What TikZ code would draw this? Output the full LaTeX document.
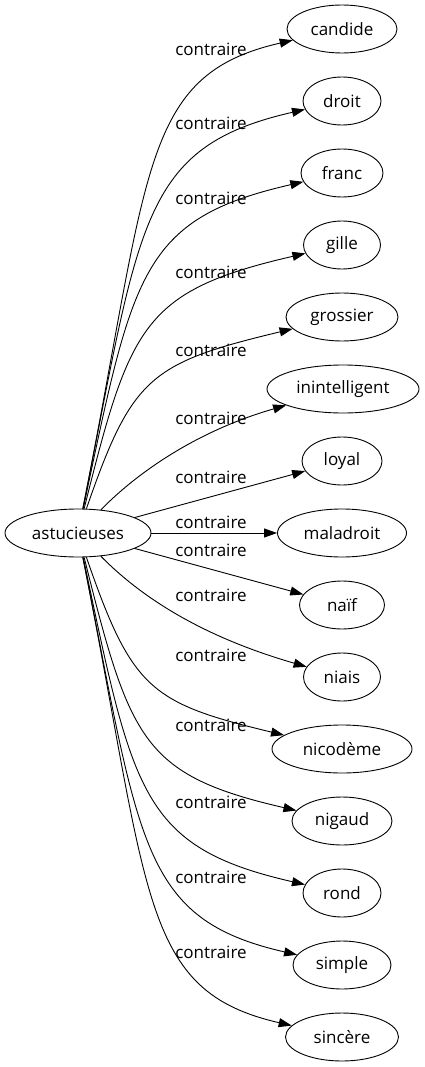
\documentclass[tikz,border=0pt]{standalone}
\usepackage{fontspec}
\setmainfont{Open Sans}
\usetikzlibrary{shapes.geometric,arrows.meta}
\begin{document}
\begin{tikzpicture}[x=1pt,y=-1pt,
  word/.style={ellipse,draw,line width=0.9pt,minimum height=48pt,inner sep=0pt,font=\fontsize{17}{20}\selectfont},
  lbl/.style={font=\fontsize{17}{20}\selectfont,inner sep=0pt},
  rel/.style={line width=0.9pt,-{Triangle[length=13pt,width=9pt]}}]
\useasboundingbox (0,0) rectangle (424,1067);
\node[word,minimum width=146pt] (src) at (78,533) {astucieuses};
\node[word,minimum width=110pt] (candide) at (342,29) {candide};
\node[word,minimum width=78pt] (droit) at (342,101) {droit};
\node[word,minimum width=82pt] (franc) at (342,173) {franc};
\node[word,minimum width=77pt] (gille) at (342,245) {gille};
\node[word,minimum width=112pt] (grossier) at (342,317) {grossier};
\node[word,minimum width=152pt] (inintelligent) at (343,389) {inintelligent};
\node[word,minimum width=80pt] (loyal) at (342,461) {loyal};
\node[word,minimum width=129pt] (maladroit) at (342,533) {maladroit};
\node[word,minimum width=85pt] (naif) at (342,605) {naïf};
\node[word,minimum width=77pt] (niais) at (342,677) {niais};
\node[word,minimum width=140pt] (nicodeme) at (342,749) {nicodème};
\node[word,minimum width=100pt] (nigaud) at (342,821) {nigaud};
\node[word,minimum width=78pt] (rond) at (342,893) {rond};
\node[word,minimum width=98pt] (simple) at (342,965) {simple};
\node[word,minimum width=113pt] (sincere) at (342,1037) {sincère};

\draw[rel] (src) .. controls (150,170) and (140,75) .. (candide);
\draw[rel] (src) .. controls (140,222) and (140,147) .. (droit);
\draw[rel] (src) .. controls (133,274) and (140,219) .. (franc);
\draw[rel] (src) .. controls (130,326) and (142,291) .. (gille);
\draw[rel] (src) .. controls (132,377) and (150,363) .. (grossier);
\draw[rel] (src) .. controls (140,470) and (200,430) .. (inintelligent);
\draw[rel] (src) -- (loyal);
\draw[rel] (src) -- (maladroit);
\draw[rel] (src) -- (naif);
\draw[rel] (src) .. controls (140,596) and (200,636) .. (niais);
\draw[rel] (src) .. controls (132,689) and (150,703) .. (nicodeme);
\draw[rel] (src) .. controls (130,740) and (142,775) .. (nigaud);
\draw[rel] (src) .. controls (133,792) and (140,847) .. (rond);
\draw[rel] (src) .. controls (140,844) and (140,919) .. (simple);
\draw[rel] (src) .. controls (150,896) and (140,991) .. (sincere);

\node[lbl] (l1) at (211,49) {contraire};
\node[lbl] (l2) at (211,123) {contraire};
\node[lbl] (l3) at (211,198) {contraire};
\node[lbl] (l4) at (211,272) {contraire};
\node[lbl] (l5) at (211,350) {contraire};
\node[lbl] (l6) at (211,418) {contraire};
\node[lbl] (l7) at (211,477) {contraire};
\node[lbl] (l8) at (211,522) {contraire};
\node[lbl] (l9) at (211,550) {contraire};
\node[lbl] (l10) at (211,595) {contraire};
\node[lbl] (l11) at (211,655) {contraire};
\node[lbl] (l12) at (211,725) {contraire};
\node[lbl] (l13) at (211,802) {contraire};
\node[lbl] (l14) at (211,877) {contraire};
\node[lbl] (l15) at (211,952) {contraire};
\end{tikzpicture}
\end{document}
